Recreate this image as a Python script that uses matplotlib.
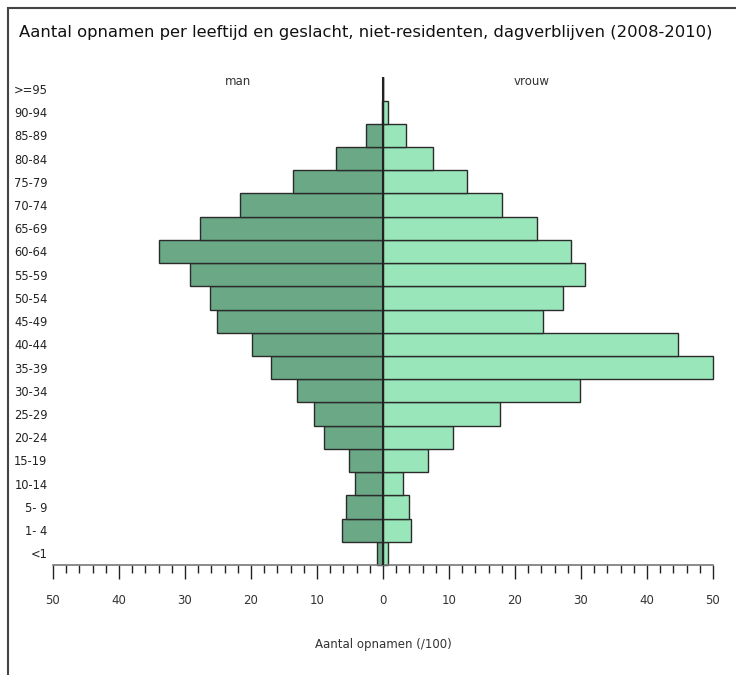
import matplotlib
matplotlib.use("Agg")
import matplotlib.pyplot as plt
from matplotlib.patches import Rectangle

age_groups = ["<1", "1- 4", "5- 9", "10-14", "15-19", "20-24", "25-29", "30-34",
              "35-39", "40-44", "45-49", "50-54", "55-59", "60-64", "65-69",
              "70-74", "75-79", "80-84", "85-89", "90-94", ">=95"]
man = [0.9, 6.2, 5.6, 4.2, 5.2, 8.9, 10.4, 13.0, 16.9, 19.8, 25.2, 26.2,
       29.2, 33.9, 27.8, 21.7, 13.7, 7.1, 2.6, 0.2, 0.0]
vrouw = [0.8, 4.3, 3.9, 3.1, 6.8, 10.6, 17.7, 29.8, 50.0, 44.7, 24.2, 27.3,
         30.6, 28.5, 23.3, 18.0, 12.8, 7.5, 3.5, 0.8, 0.0]
x_ticks = [-50, -40, -30, -20, -10, 0, 10, 20, 30, 40, 50]
x_tick_labels = ["50", "40", "30", "20", "10", "0", "10", "20", "30", "40", "50"]

W, H = 736, 675
fig = plt.figure(figsize=(W / 100, H / 100), dpi=100)
fig.patch.set_facecolor("white")

ax = fig.add_axes([53 / W, 1 - 565 / H, 660 / W, (565 - 77.3) / H])

ypos = list(range(len(age_groups)))
b1 = ax.barh(ypos, [-m for m in man], height=1.0, color="#6aa886",
             edgecolor="#2b2b2b", linewidth=1.0, zorder=2)
b2 = ax.barh(ypos, vrouw, height=1.0, color="#99e6bb",
             edgecolor="#2b2b2b", linewidth=1.0, zorder=2)
for p in list(b1) + list(b2):
    p.set_clip_on(False)
ax.axvline(0, color="#222222", linewidth=1.5, zorder=3)

ax.set_xlim(-50, 50)
ax.set_ylim(-0.5, len(age_groups) - 0.5)

for s in ["top", "right", "left"]:
    ax.spines[s].set_visible(False)
ax.spines["bottom"].set_color("#777777")
ax.spines["bottom"].set_linewidth(1.2)

ax.set_yticks(ypos)
ax.set_yticklabels(age_groups, fontsize=8.3, color="#222222")
ax.tick_params(axis="y", length=0, pad=4)

ax.set_xticks(x_ticks)
ax.set_xticklabels(x_tick_labels, fontsize=8.5, color="#333333")
ax.set_xticks(list(range(-50, 51, 2)), minor=True)
ax.tick_params(axis="x", which="major", length=10, width=1.0, color="#222222", pad=11)
ax.tick_params(axis="x", which="minor", length=5.8, width=1.0, color="#222222")
ax.set_xlabel("Aantal opnamen (/100)", fontsize=8.5, color="#333333", labelpad=22)

ax.text(-22, 20.3, "man", ha="center", va="center", fontsize=8.5, color="#333333")
ax.text(22.5, 20.3, "vrouw", ha="center", va="center", fontsize=8.5, color="#333333")

fig.text(19 / W, 1 - 33 / H, "Aantal opnamen per leeftijd en geslacht, niet-residenten, dagverblijven (2008-2010)",
         ha="left", va="center", fontsize=11.8, color="#111111")

fig.add_artist(Rectangle((8 / W, -0.1), 1.2, (1 - 8 / H) + 0.1, transform=fig.transFigure,
                         fill=False, edgecolor="#444444", linewidth=1.5))

fig.savefig("out.png", dpi=100, facecolor="white")
